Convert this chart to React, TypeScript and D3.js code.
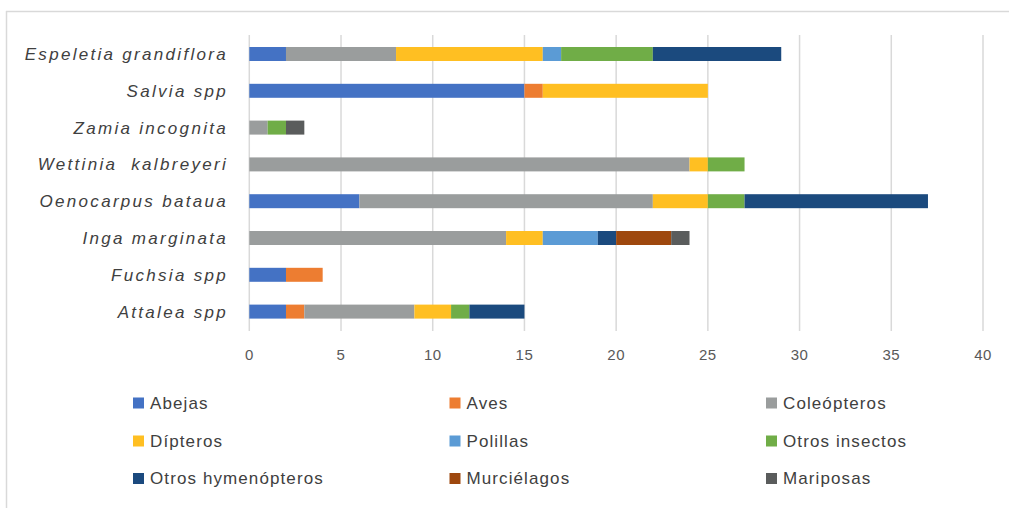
import React from "react";
import * as d3 from "d3";

const categories = [
  "Espeletia grandiflora",
  "Salvia spp",
  "Zamia incognita",
  "Wettinia  kalbreyeri",
  "Oenocarpus bataua",
  "Inga marginata",
  "Fuchsia spp",
  "Attalea spp",
];

const seriesNames = [
  "Abejas",
  "Aves",
  "Coleópteros",
  "Dípteros",
  "Polillas",
  "Otros insectos",
  "Otros hymenópteros",
  "Murciélagos",
  "Mariposas",
];

const seriesColors = [
  "#4472C4",
  "#ED7D31",
  "#9A9D9D",
  "#FFBF22",
  "#5B9BD5",
  "#70AD47",
  "#1B4A7E",
  "#9E480E",
  "#5A5C5C",
];

// values per category, order matches seriesNames
const abejas = [2, 15, 0, 0, 6, 0, 2, 2];
const aves = [0, 1, 0, 0, 0, 0, 2, 1];
const coleopteros = [6, 0, 1, 24, 16, 14, 0, 6];
const dipteros = [8, 9, 0, 1, 3, 2, 0, 2];
const polillas = [1, 0, 0, 0, 0, 3, 0, 0];
const otrosInsectos = [5, 0, 1, 2, 2, 0, 0, 1];
const otrosHym = [7, 0, 0, 0, 10, 1, 0, 3];
const murcielagos = [0, 0, 0, 0, 0, 3, 0, 0];
const mariposas = [0, 0, 1, 0, 0, 1, 0, 0];

const seriesValues = [
  abejas,
  aves,
  coleopteros,
  dipteros,
  polillas,
  otrosInsectos,
  otrosHym,
  murcielagos,
  mariposas,
];

const xTicks = [0, 5, 10, 15, 20, 25, 30, 35, 40];

export default function App() {
  const W = 1009;
  const H = 508;
  const x = d3.scaleLinear().domain([0, 40]).range([249.3, 983]);
  const y = d3
    .scaleBand<string>()
    .domain(categories)
    .range([35.6, 330])
    .paddingInner(0.62)
    .paddingOuter(0.31);

  const rows = categories.map((c, i) => {
    const obj: any = { cat: c };
    seriesNames.forEach((s, j) => (obj[s] = seriesValues[j][i]));
    return obj;
  });
  const stacked = d3.stack<any>().keys(seriesNames)(rows);

  const legendCols = [133, 449.5, 766];
  const legendRows = [403, 441, 478.5];

  return (
    <svg
      width={W}
      height={H}
      style={{ position: "absolute", left: 0, top: 0, background: "#fff" }}
    >
      <rect x={0} y={0} width={W} height={H} fill="#fff" />
      {/* frame */}
      <line x1={6.5} y1={11} x2={6.5} y2={H} stroke="#d9d9d9" strokeWidth={1.5} />
      <line x1={6} y1={11.5} x2={W} y2={11.5} stroke="#d9d9d9" strokeWidth={1.5} />
      {/* grid */}
      {xTicks.map((t) => (
        <line
          key={t}
          x1={x(t)}
          x2={x(t)}
          y1={35}
          y2={331}
          stroke="#d9d9d9"
          strokeWidth={1.5}
        />
      ))}
      {/* bars */}
      {stacked.map((layer, j) =>
        layer.map((d, i) =>
          d[1] - d[0] > 0 ? (
            <rect
              key={`${j}-${i}`}
              x={x(d[0])}
              y={y(categories[i])!}
              width={x(d[1]) - x(d[0])}
              height={y.bandwidth()}
              fill={seriesColors[j]}
            />
          ) : null
        )
      )}
      {/* category labels */}
      {categories.map((c) => (
        <text
          key={c}
          x={228}
          y={y(c)! + y.bandwidth() / 2}
          dy="0.35em"
          textAnchor="end"
          fontFamily="Liberation Sans, Arial, sans-serif"
          fontStyle="italic"
          fontSize={17}
          letterSpacing={2.3}
          fill="#404040"
          style={{ whiteSpace: "pre" }}
        >
          {c}
        </text>
      ))}
      {/* x tick labels */}
      {xTicks.map((t) => (
        <text
          key={t}
          x={x(t)}
          y={355}
          dy="0.35em"
          textAnchor="middle"
          fontFamily="Liberation Sans, Arial, sans-serif"
          fontSize={15}
          letterSpacing={0.5}
          fill="#595959"
        >
          {t}
        </text>
      ))}
      {/* legend */}
      {seriesNames.map((s, j) => {
        const cx = legendCols[j % 3];
        const cy = legendRows[Math.floor(j / 3)];
        return (
          <g key={s}>
            <rect x={cx} y={cy - 5.5} width={11} height={11} fill={seriesColors[j]} />
            <text
              x={cx + 17}
              y={cy}
              dy="0.35em"
              fontFamily="Liberation Sans, Arial, sans-serif"
              fontSize={17}
              letterSpacing={1.1}
              fill="#404040"
            >
              {s}
            </text>
          </g>
        );
      })}
    </svg>
  );
}
